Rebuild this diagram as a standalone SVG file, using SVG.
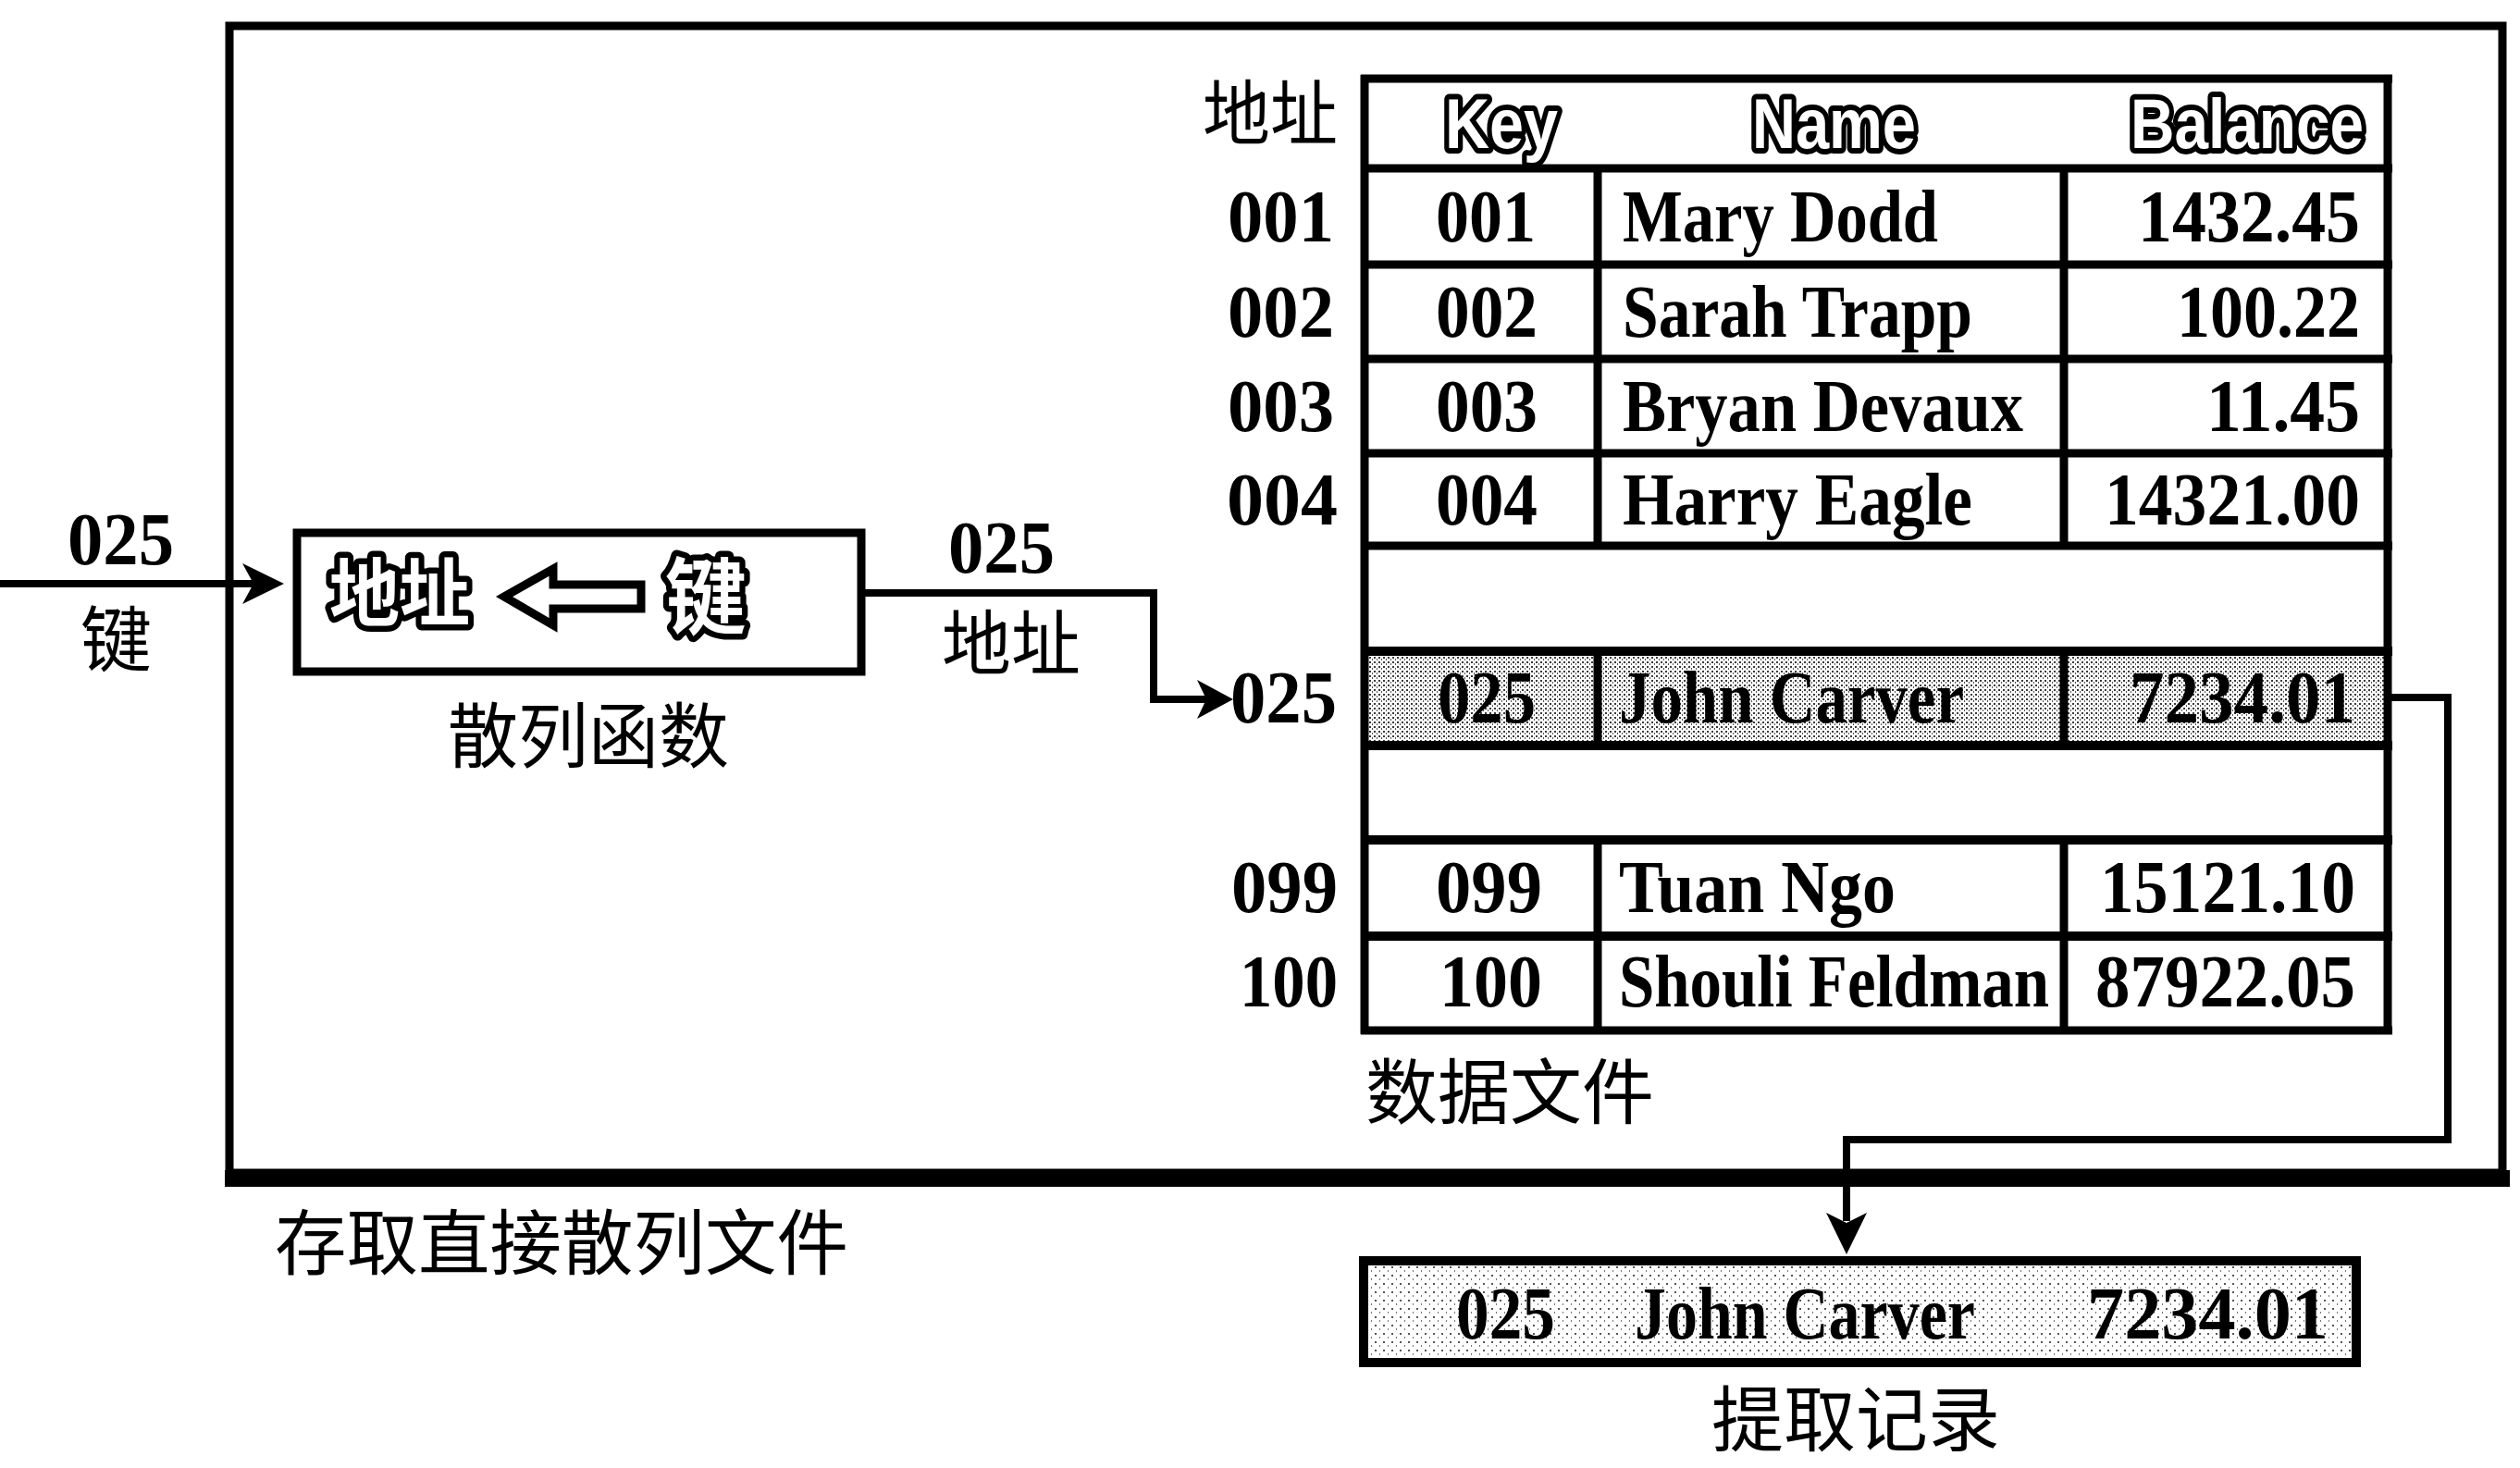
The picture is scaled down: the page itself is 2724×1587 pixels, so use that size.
<svg xmlns="http://www.w3.org/2000/svg" width="2724" height="1587" viewBox="0 0 2724 1587">
<style>
.ser{font-family:"Liberation Serif","Times New Roman",serif;font-weight:bold;font-size:80px;fill:#000}
.cjk{font-family:"Noto Sans CJK SC","Noto Sans CJK JP",sans-serif;font-size:77px;fill:#000}
.hol{font-family:"Liberation Sans",Arial,sans-serif;font-weight:bold;font-size:76px;fill:#fff;stroke:#000;stroke-width:12px;paint-order:stroke;stroke-linejoin:round}
.holc{font-family:"Noto Sans CJK SC","Noto Sans CJK JP",sans-serif;font-weight:bold;fill:#fff;stroke:#000;stroke-width:13px;paint-order:stroke;stroke-linejoin:round}
.ln{stroke:#000;fill:none}
.con{stroke:#000;stroke-width:8;fill:none}
</style>
<defs>
<pattern id="dither" width="5" height="5" patternUnits="userSpaceOnUse">
<rect width="5" height="5" fill="#ffffff"/>
<rect x="0" y="0" width="2" height="2" fill="#3a3a3a"/>
<rect x="3" y="2" width="1" height="2" fill="#555"/>
</pattern>
<pattern id="dither2" width="9" height="9" patternUnits="userSpaceOnUse">
<rect width="9" height="9" fill="#ffffff"/>
<rect x="1" y="1" width="2" height="2" fill="#555"/>
<rect x="6" y="5" width="1" height="2" fill="#777"/>
</pattern>
</defs>
<rect width="2724" height="1587" fill="#fff"/>

<g id="outer-box">
<rect x="248" y="28" width="2457" height="1240" class="ln" stroke-width="9"/>
<rect x="243" y="1265" width="2470" height="18" fill="#000"/>
<text class="cjk" x="297" y="1372" textLength="620" lengthAdjust="spacingAndGlyphs">存取直接散列文件</text>
</g>

<g id="hash-function">
<rect x="321" y="576" width="610" height="150" class="ln" stroke-width="9" fill="#fff"/>
<text class="holc" x="356" y="670" font-size="80" textLength="152" lengthAdjust="spacingAndGlyphs">地址</text>
<path d="M545,645 L598,615 L598,632 L693,632 L693,658 L598,658 L598,676 Z" fill="#fff" stroke="#000" stroke-width="9" stroke-linejoin="miter"/>
<text class="holc" x="719" y="678" font-size="90" textLength="88" lengthAdjust="spacingAndGlyphs">键</text>
<text class="cjk" x="484" y="824" textLength="304" lengthAdjust="spacingAndGlyphs">散列函数</text>
</g>

<g id="data-file">
<rect x="1475" y="704" width="1106" height="102" fill="url(#dither)"/>
<g class="ln" stroke-width="9">
<line x1="1475" y1="81" x2="1475" y2="1118"/>
<line x1="2581" y1="81" x2="2581" y2="1118"/>
<line x1="1471" y1="85" x2="2586" y2="85" stroke-width="9"/>
<line x1="1471" y1="182" x2="2586" y2="182"/>
<line x1="1471" y1="286" x2="2586" y2="286"/>
<line x1="1471" y1="388" x2="2586" y2="388"/>
<line x1="1471" y1="490" x2="2586" y2="490"/>
<line x1="1471" y1="590" x2="2586" y2="590"/>
<line x1="1471" y1="704" x2="2586" y2="704" stroke-width="10"/>
<line x1="1471" y1="806" x2="2586" y2="806" stroke-width="10"/>
<line x1="1471" y1="908" x2="2586" y2="908" stroke-width="10"/>
<line x1="1471" y1="1012" x2="2586" y2="1012" stroke-width="10"/>
<line x1="1471" y1="1114" x2="2586" y2="1114"/>
<line x1="1727" y1="182" x2="1727" y2="590"/>
<line x1="2231" y1="182" x2="2231" y2="590"/>
<line x1="1727" y1="704" x2="1727" y2="806"/>
<line x1="2231" y1="704" x2="2231" y2="806"/>
<line x1="1727" y1="908" x2="1727" y2="1114"/>
<line x1="2231" y1="908" x2="2231" y2="1114"/>
</g>
<text class="cjk" x="1300" y="151" font-size="72" textLength="146" lengthAdjust="spacingAndGlyphs">地址</text>
<text class="hol" x="1562" y="160" textLength="122" lengthAdjust="spacingAndGlyphs">Key</text>
<text class="hol" x="1894" y="160" textLength="177" lengthAdjust="spacingAndGlyphs">Name</text>
<text class="hol" x="2303" y="160" textLength="252" lengthAdjust="spacingAndGlyphs">Balance</text>

<text class="ser" x="1327" y="261" textLength="115" lengthAdjust="spacingAndGlyphs">001</text>
<text class="ser" x="1552" y="261" textLength="108" lengthAdjust="spacingAndGlyphs">001</text>
<text class="ser" x="1754" y="261" textLength="341" lengthAdjust="spacingAndGlyphs">Mary Dodd</text>
<text class="ser" x="2311" y="261" textLength="240" lengthAdjust="spacingAndGlyphs">1432.45</text>

<text class="ser" x="1327" y="364" textLength="115" lengthAdjust="spacingAndGlyphs">002</text>
<text class="ser" x="1552" y="364" textLength="110" lengthAdjust="spacingAndGlyphs">002</text>
<text class="ser" x="1754" y="364" textLength="378" lengthAdjust="spacingAndGlyphs">Sarah Trapp</text>
<text class="ser" x="2353" y="364" textLength="198" lengthAdjust="spacingAndGlyphs">100.22</text>

<text class="ser" x="1327" y="466" textLength="115" lengthAdjust="spacingAndGlyphs">003</text>
<text class="ser" x="1552" y="466" textLength="110" lengthAdjust="spacingAndGlyphs">003</text>
<text class="ser" x="1754" y="466" textLength="433" lengthAdjust="spacingAndGlyphs">Bryan Devaux</text>
<text class="ser" x="2385" y="466" textLength="166" lengthAdjust="spacingAndGlyphs">11.45</text>

<text class="ser" x="1326" y="567" textLength="120" lengthAdjust="spacingAndGlyphs">004</text>
<text class="ser" x="1552" y="567" textLength="110" lengthAdjust="spacingAndGlyphs">004</text>
<text class="ser" x="1754" y="567" textLength="378" lengthAdjust="spacingAndGlyphs">Harry Eagle</text>
<text class="ser" x="2275" y="567" textLength="276" lengthAdjust="spacingAndGlyphs">14321.00</text>

<text class="ser" x="1330" y="781" textLength="115" lengthAdjust="spacingAndGlyphs">025</text>
<text class="ser" x="1554" y="781" textLength="106" lengthAdjust="spacingAndGlyphs">025</text>
<text class="ser" x="1750" y="781" textLength="373" lengthAdjust="spacingAndGlyphs">John Carver</text>
<text class="ser" x="2302" y="781" textLength="244" lengthAdjust="spacingAndGlyphs">7234.01</text>

<text class="ser" x="1331" y="986" textLength="115" lengthAdjust="spacingAndGlyphs">099</text>
<text class="ser" x="1552" y="986" textLength="115" lengthAdjust="spacingAndGlyphs">099</text>
<text class="ser" x="1750" y="986" textLength="299" lengthAdjust="spacingAndGlyphs">Tuan Ngo</text>
<text class="ser" x="2270" y="986" textLength="276" lengthAdjust="spacingAndGlyphs">15121.10</text>

<text class="ser" x="1340" y="1088" textLength="106" lengthAdjust="spacingAndGlyphs">100</text>
<text class="ser" x="1556" y="1088" textLength="111" lengthAdjust="spacingAndGlyphs">100</text>
<text class="ser" x="1750" y="1088" textLength="465" lengthAdjust="spacingAndGlyphs">Shouli Feldman</text>
<text class="ser" x="2265" y="1088" textLength="281" lengthAdjust="spacingAndGlyphs">87922.05</text>

<text class="cjk" x="1476" y="1209" textLength="312" lengthAdjust="spacingAndGlyphs">数据文件</text>
</g>

<g id="retrieved-record">
<rect x="1474" y="1363" width="1073" height="110" fill="url(#dither2)" stroke="#000" stroke-width="10"/>
<text class="ser" x="1574" y="1447" font-size="86" textLength="107" lengthAdjust="spacingAndGlyphs">025</text>
<text class="ser" x="1767" y="1447" font-size="86" textLength="368" lengthAdjust="spacingAndGlyphs">John Carver</text>
<text class="ser" x="2256" y="1447" font-size="86" textLength="261" lengthAdjust="spacingAndGlyphs">7234.01</text>
<text class="cjk" x="1850" y="1563" textLength="312" lengthAdjust="spacingAndGlyphs">提取记录</text>
</g>

<g id="connectors">
<line x1="0" y1="631" x2="275" y2="631" class="con" stroke-width="6"/>
<path d="M307,631 L262,609 L274,631 L262,653 Z" fill="#000"/>
<text class="ser" x="73" y="610" font-size="86" textLength="115" lengthAdjust="spacingAndGlyphs">025</text>
<text class="cjk" x="87" y="720" font-size="76">键</text>

<path d="M931,641 H1247 V756 H1305" class="con"/>
<path d="M1333,756 L1294,735 L1304,756 L1294,777 Z" fill="#000"/>
<text class="ser" x="1025" y="619" font-size="86" textLength="115" lengthAdjust="spacingAndGlyphs">025</text>
<text class="cjk" x="1018" y="724" font-size="74" textLength="150" lengthAdjust="spacingAndGlyphs">地址</text>

<path d="M2583,754 H2646 V1232 H1996 V1320" class="con"/>
<path d="M1996,1356 L1974,1311 L1996,1322 L2018,1311 Z" fill="#000"/>
</g>
</svg>
